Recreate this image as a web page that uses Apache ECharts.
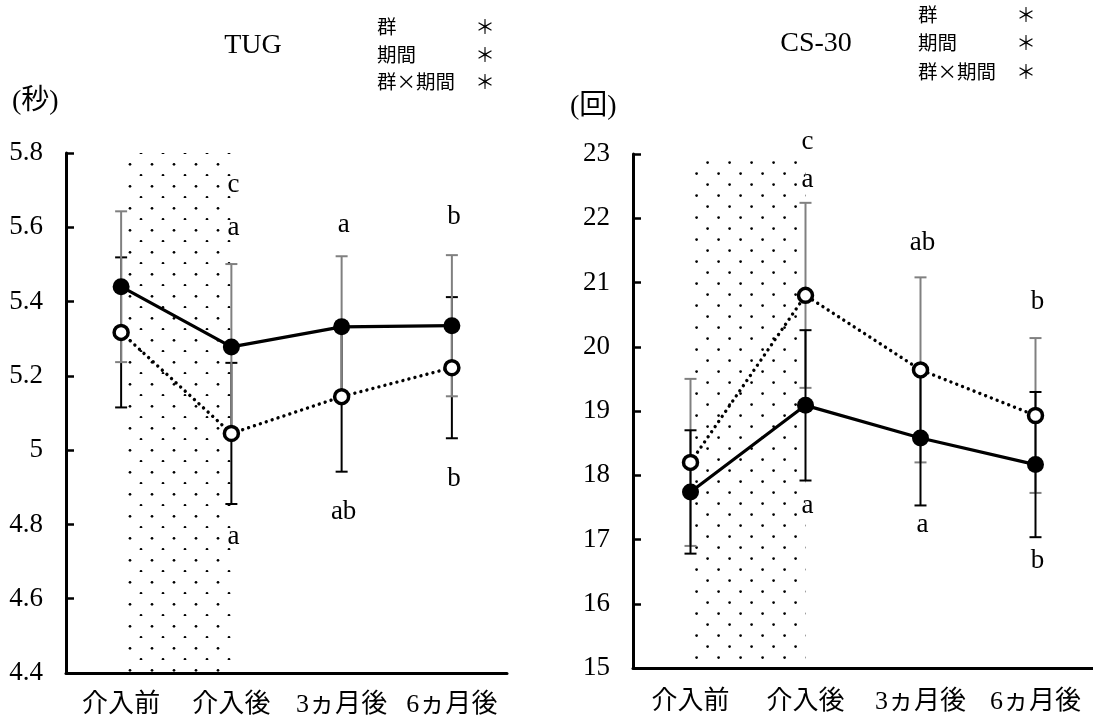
<!DOCTYPE html>
<html><head><meta charset="utf-8">
<script src="https://cdn.jsdelivr.net/npm/echarts@6/dist/echarts.min.js"></script>
<style>html,body{margin:0;padding:0;background:#fff}#c{width:1093px;height:722px}</style>
</head><body><div id="c"></div>
<script>
// ---- data ----
const categories = ['介入前', '介入後', '3ヵ月後', '6ヵ月後'];
// TUG (秒)
const tugFilledMean = [5.44, 5.278, 5.332, 5.335];
const tugFilledSD   = [0.203, 0.223, 0.19, 0.19];
const tugOpenMean   = [5.317, 5.045, 5.144, 5.222];
const tugOpenSD     = [0.202, 0.19, 0.202, 0.19];
// CS-30 (回)
const csFilledMean = [17.74, 19.088, 18.58, 18.166];
const csFilledSD   = [0.96, 1.17, 1.05, 1.13];
const csOpenMean   = [18.2, 20.80, 19.64, 18.93];
const csOpenSD     = [1.3, 1.44, 1.44, 1.205];
// significance letters: [category index, value-axis anchor, letter]
const tugLetters = [[1, 5.714, 'c'], [1, 5.598, 'a'], [2, 5.606, 'a'], [3, 5.628, 'b'],
                    [1, 4.767, 'a'], [2, 4.834, 'ab'], [3, 4.922, 'b']];
const csLetters  = [[1, 23.19, 'c'], [1, 22.60, 'a'], [2, 21.61, 'ab'], [3, 20.70, 'b'],
                    [1, 17.53, 'a'], [2, 17.23, 'a'], [3, 16.66, 'b']];
const statLabels = ['群', '期間', '群×期間'];
const statMarks  = ['＊', '＊', '＊'];
const titles = ['TUG', 'CS-30'];
const units = ['(秒)', '(回)'];

// ---- styles ----
const SERIF = "'Liberation Serif', 'Noto Sans CJK JP', serif";
const CJK = "'Noto Sans CJK JP', 'Liberation Serif', sans-serif";
const GRAY = '#808080';

function dotPattern(ax, ay) {
  const c = document.createElement('canvas');
  c.width = 22; c.height = 22;
  const g = c.getContext('2d');
  g.fillStyle = '#000';
  const pts = [[ax, ay], [(ax + 11) % 22, (ay + 11) % 22]];
  pts.forEach(p => { g.beginPath(); g.arc(p[0], p[1], 1.35, 0, Math.PI * 2); g.fill(); });
  return c;
}

function errorBars(gi, means, sds, color, z) {
  return {
    type: 'custom', xAxisIndex: gi, yAxisIndex: gi, z: z, silent: true,
    data: means.map((m, i) => [i, m, sds[i]]),
    renderItem: function (params, api) {
      const x = api.value(0), m = api.value(1), s = api.value(2);
      const top = api.coord([x, m + s]);
      const bot = api.coord([x, m - s]);
      const hw = 6;
      const st = { stroke: color, lineWidth: 2 };
      return { type: 'group', children: [
        { type: 'line', shape: { x1: top[0], y1: top[1], x2: bot[0], y2: bot[1] }, style: st },
        { type: 'line', shape: { x1: top[0] - hw, y1: top[1], x2: top[0] + hw, y2: top[1] }, style: st },
        { type: 'line', shape: { x1: bot[0] - hw, y1: bot[1], x2: bot[0] + hw, y2: bot[1] }, style: st }
      ]};
    }
  };
}

function letterSeries(gi, letters) {
  return {
    type: 'custom', xAxisIndex: gi, yAxisIndex: gi, z: 6, silent: true, clip: false,
    data: letters.map(l => [l[0], l[1]]),
    renderItem: function (params, api) {
      const p = api.coord([api.value(0), api.value(1)]);
      return { type: 'text', x: p[0] + 2, y: p[1],
        style: { text: letters[params.dataIndex][2], fontSize: 27, fontFamily: SERIF,
                 fill: '#000', align: 'center', verticalAlign: 'middle' } };
    }
  };
}

function lineSeries(gi, means, open) {
  return {
    type: 'line', xAxisIndex: gi, yAxisIndex: gi, z: 5, silent: true,
    data: means,
    symbol: 'circle',
    symbolSize: open ? 14 : 17,
    lineStyle: open ? { color: '#000', width: 3.4, type: [0.01, 6.2], cap: 'round' }
                    : { color: '#000', width: 3.2 },
    itemStyle: open ? { color: '#fff', borderColor: '#000', borderWidth: 3.5 }
                    : { color: '#000', borderWidth: 0 },
    animation: false
  };
}

function patternHolder(gi, pat) {
  return {
    type: 'line', xAxisIndex: gi, yAxisIndex: gi, z: 1, silent: true,
    data: categories.map(() => null), symbol: 'none',
    markArea: { silent: true,
      itemStyle: { color: { image: pat, repeat: 'repeat' }, borderWidth: 0 },
      data: [[{ xAxis: categories[0] }, { xAxis: categories[1] }]] }
  };
}

function xAxis(gi, margin) {
  return {
    type: 'category', gridIndex: gi, data: categories, boundaryGap: true,
    axisLine: { lineStyle: { color: '#000', width: 3 } },
    axisTick: { inside: true, alignWithLabel: true, length: 7, lineStyle: { color: '#000', width: 2.5 } },
    axisLabel: { color: '#000', fontSize: 26, fontFamily: SERIF, margin: margin, interval: 0 },
    splitLine: { show: false }
  };
}
function yAxis(gi, min, max, interval) {
  return {
    type: 'value', gridIndex: gi, min: min, max: max, interval: interval,
    axisLine: { show: true, lineStyle: { color: '#000', width: 3 } },
    axisTick: { show: true, inside: true, length: 8, lineStyle: { color: '#000', width: 2.5 } },
    axisLabel: { color: '#000', fontSize: 27, fontFamily: SERIF, margin: 23 },
    splitLine: { show: false }
  };
}

function txt(x, y, text, size, family, align) {
  return { type: 'text', x: x, y: y, silent: true,
    style: { text: text, fontSize: size, fontFamily: family, fill: '#000',
             align: align || 'left', verticalAlign: 'middle',
             textAlign: align || 'left', textVerticalAlign: 'middle' } };
}

const graphics = [
  txt(253, 46, titles[0], 28, SERIF, 'center'),
  txt(816, 44, titles[1], 28, SERIF, 'center'),
  txt(12, 102, units[0], 28, SERIF, 'left'),
  txt(570, 107, units[1], 28, SERIF, 'left')
];
const statRowsL = [27, 55, 82], statRowsR = [15, 43, 72];
statLabels.forEach((s, i) => {
  graphics.push(txt(377, statRowsL[i], s, 19.5, CJK, 'left'));
  graphics.push(txt(485, statRowsL[i], statMarks[i], 19.5, CJK, 'center'));
  graphics.push(txt(918, statRowsR[i], s, 19.5, CJK, 'left'));
  graphics.push(txt(1026, statRowsR[i], statMarks[i], 19.5, CJK, 'center'));
});

const chart = echarts.init(document.getElementById('c'), null, { renderer: 'canvas' });
chart.setOption({
  animation: false,
  backgroundColor: '#fff',
  grid: [
    { left: 66, top: 153, width: 441, height: 520 },
    { left: 633, top: 154, width: 464, height: 514 }
  ],
  xAxis: [xAxis(0, 19), xAxis(1, 21)],
  yAxis: [yAxis(0, 4.4, 5.8, 0.2), yAxis(1, 15, 23, 1)],
  graphic: graphics,
  series: [
    patternHolder(0, dotPattern(9, 21.3)),
    errorBars(0, tugOpenMean, tugOpenSD, '#000', 2),
    errorBars(0, tugFilledMean, tugFilledSD, GRAY, 3),
    lineSeries(0, tugOpenMean, true),
    lineSeries(0, tugFilledMean, false),
    letterSeries(0, tugLetters),
    patternHolder(1, dotPattern(14.6, 19.6)),
    errorBars(1, csOpenMean, csOpenSD, GRAY, 2),
    errorBars(1, csFilledMean, csFilledSD, '#000', 3),
    lineSeries(1, csOpenMean, true),
    lineSeries(1, csFilledMean, false),
    letterSeries(1, csLetters)
  ]
});
</script></body></html>
